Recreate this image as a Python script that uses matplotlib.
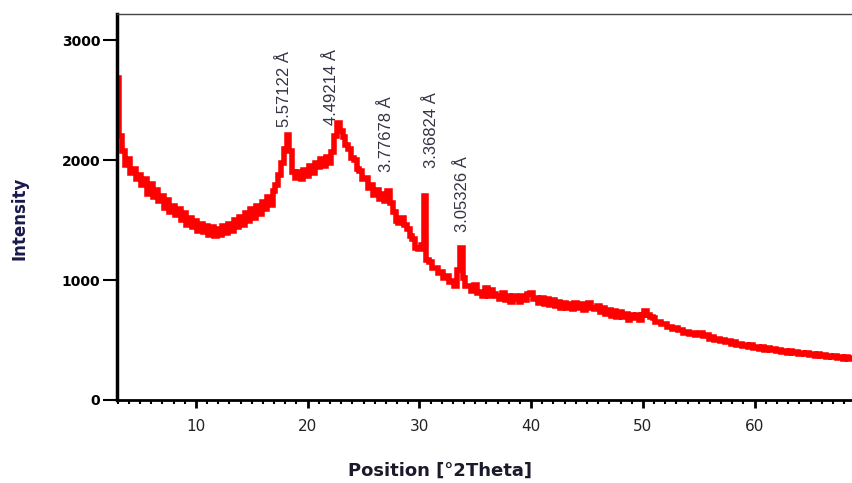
import numpy as np
import matplotlib.pyplot as plt
from matplotlib.ticker import MultipleLocator

# --> diffractogramme (pas de 0.25 deg à partir de 3 deg)
start_2theta = 3.0
step_2theta = 0.25
intensity = [
    2690, 2200, 2080, 1960, 2010, 1890, 1930, 1840,
    1880, 1790, 1840, 1720, 1800, 1690, 1750, 1660,
    1700, 1600, 1670, 1570, 1620, 1540, 1590, 1500,
    1560, 1460, 1520, 1440, 1490, 1410, 1470, 1400,
    1450, 1380, 1440, 1370, 1430, 1380, 1450, 1390,
    1470, 1410, 1500, 1440, 1530, 1460, 1560, 1490,
    1590, 1520, 1620, 1550, 1650, 1590, 1690, 1630,
    1740, 1790, 1880, 1980, 2090, 2210, 2080, 1900,
    1850, 1900, 1840, 1920, 1870, 1950, 1890, 1980,
    1940, 2010, 1950, 2030, 1980, 2070, 2200, 2310,
    2240, 2190, 2130, 2090, 2020, 2000, 1930, 1910,
    1840, 1850, 1770, 1790, 1710, 1750, 1680, 1720,
    1660, 1740, 1640, 1570, 1490, 1480, 1520, 1460,
    1430, 1370, 1340, 1270, 1260, 1290, 1700, 1170,
    1150, 1100, 1100, 1060, 1070, 1020, 1030, 980,
    990, 950, 1080, 1270, 1020, 950, 950, 910,
    960, 890, 900, 870, 930, 870, 920, 880,
    870, 840, 890, 830, 870, 820, 870, 840,
    820, 870, 830, 880, 890, 840, 850, 810,
    850, 800, 840, 790, 830, 780, 820, 770,
    810, 770, 800, 760, 810, 770, 800, 750,
    790, 810, 770, 760, 780, 730, 770, 720,
    750, 700, 740, 690, 730, 690, 720, 670,
    710, 680, 710, 670, 710, 740, 710, 690,
    680, 650, 650, 630, 630, 610, 610, 590,
    600, 580, 580, 560, 570, 550, 560, 540,
    540, 560, 530, 540, 510, 525, 500, 510,
    490, 500, 480, 490, 465, 480, 460, 470,
    450, 460, 440, 455, 435, 445, 425, 440,
    420, 430, 415, 425, 405, 420, 400, 410,
    395, 405, 390, 400, 385, 395, 380, 390,
    375, 385, 370, 380, 365, 375, 360, 370,
    355, 365, 350, 360, 345, 355, 345, 350,
]
two_theta = start_2theta + step_2theta * np.arange(len(intensity))

# --> pics annotés (position, hauteur du bas de l'étiquette, texte)
peak_pos = [17.96, 22.1, 27.08, 31.1, 33.88]
peak_lab_y = [2280, 2297, 1903, 1936, 1400]
peak_text = ["5.57122 Å", "4.49214 Å", "3.77678 Å", "3.36824 Å", "3.05326 Å"]

fig = plt.figure(figsize=(8.53, 4.83), dpi=100)
ax = fig.add_axes([0.137, 0.172, 0.863, 0.799])

ax.plot(two_theta, intensity, color='#ff0000', lw=4, drawstyle='steps-mid',
        solid_joinstyle='miter', solid_capstyle='butt')

for px, py, txt in zip(peak_pos, peak_lab_y, peak_text):
    ax.text(px, py, txt, rotation=90, ha='center', va='bottom',
            fontsize=12, color='#333344', family='Liberation Sans')

ax.set_xlim(2.93, 68.8)
ax.set_ylim(0, 3220)
ax.set_xticks([10, 20, 30, 40, 50, 60])
ax.xaxis.set_minor_locator(MultipleLocator(1))
ax.set_yticks([0, 1000, 2000, 3000])

ax.spines['right'].set_visible(False)
ax.spines['left'].set_linewidth(2.5)
ax.spines['bottom'].set_linewidth(2)
ax.spines['top'].set_linewidth(1)
ax.spines['top'].set_color('#444444')

ax.tick_params(axis='x', which='major', direction='out', length=6, width=2,
               labelsize=11, pad=8, labelcolor='#222222')
ax.tick_params(axis='x', which='minor', direction='out', length=3, width=1.5)
ax.tick_params(axis='y', which='major', direction='out', length=10, width=1.5,
               labelsize=10, pad=2)
for lab in ax.get_yticklabels():
    lab.set_fontweight('bold')

ax.set_ylabel("Intensity", fontsize=12, fontweight='bold', color='#1a1a4a')
ax.yaxis.set_label_coords(-0.12, 0.47)
ax.set_xlabel("Position [°2Theta]", fontsize=13, fontweight='bold', color='#1a1a2a')
ax.xaxis.set_label_coords(0.439, -0.16)

fig.savefig("out.png", dpi=100)
